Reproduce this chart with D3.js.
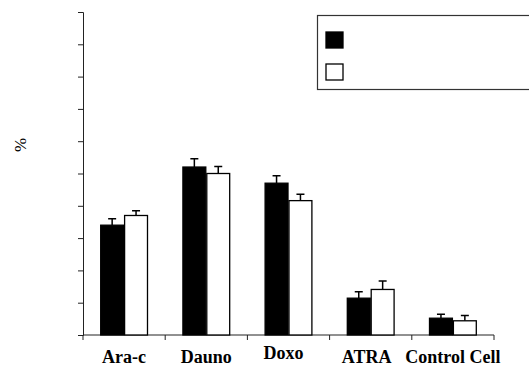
<!DOCTYPE html>
<html>
<head>
<meta charset="utf-8">
<script src="https://cdn.jsdelivr.net/npm/d3@7"></script>
<style>
  body { margin: 0; background: #fff; }
  svg { display: block; }
</style>
</head>
<body>
<div id="chart"></div>
<script>
// values (percent)
const categories = ["Ara-c", "Dauno", "Doxo", "ATRA", "Control Cell"];
const seriesNames = ["s1", "s2"];
const blackValues = [34, 52, 47, 11.4, 5.2];
const blackErrors = [2, 2.6, 2.3, 2, 1.2];
const whiteValues = [37, 50, 41.6, 14.1, 4.4];
const whiteErrors = [1.5, 2.2, 2, 2.6, 1.6];
const yTicks = [0, 10, 20, 30, 40, 50, 60, 70, 80, 90, 100];

const width = 529, height = 366;
const margin = {top: 12, right: 35, bottom: 31, left: 83};

const svg = d3.select("#chart").append("svg")
    .attr("width", width)
    .attr("height", height);

const x = d3.scaleBand()
    .domain(categories)
    .range([margin.left, width - margin.right])
    .paddingInner(0)
    .paddingOuter(0);

const x1 = d3.scaleBand()
    .domain(seriesNames)
    .range([0, x.bandwidth()])
    .paddingOuter(0.72)
    .paddingInner(0);

const y = d3.scaleLinear()
    .domain([0, 100])
    .range([height - margin.bottom, margin.top]);

// y axis, ticks only
const yAxis = svg.append("g")
    .attr("transform", `translate(${margin.left},0)`)
    .call(d3.axisLeft(y).tickValues(yTicks).tickSize(5).tickFormat(""));
yAxis.select(".domain").attr("stroke", "#222");
yAxis.selectAll(".tick line").attr("stroke", "#222");

// x axis with downward ticks at band edges
const xAxisY = y(0);
svg.append("line")
    .attr("x1", margin.left).attr("x2", width - margin.right)
    .attr("y1", xAxisY).attr("y2", xAxisY)
    .attr("stroke", "#222");
const edges = categories.map(c => x(c)).concat([x(categories[categories.length - 1]) + x.bandwidth()]);
svg.selectAll(".xtick")
    .data(edges)
    .enter().append("line")
    .attr("x1", d => d).attr("x2", d => d)
    .attr("y1", xAxisY).attr("y2", xAxisY + 5)
    .attr("stroke", "#222");

// bars
const rows = categories.map((c, i) => ({
    cat: c,
    bars: [
        {key: "s1", v: blackValues[i], e: blackErrors[i], fill: "#000"},
        {key: "s2", v: whiteValues[i], e: whiteErrors[i], fill: "#fff"}
    ]
}));

const groups = svg.selectAll(".grp")
    .data(rows)
    .enter().append("g")
    .attr("transform", d => `translate(${x(d.cat)},0)`);

// error bars (upper only)
groups.selectAll(".err")
    .data(d => d.bars)
    .enter().append("path")
    .attr("d", d => {
        const cx = x1(d.key) + x1.bandwidth() / 2;
        const top = y(d.v + d.e);
        return `M${cx},${y(d.v)}V${top}M${cx - 4},${top}H${cx + 4}`;
    })
    .attr("stroke", "#000")
    .attr("stroke-width", 1.5)
    .attr("fill", "none");

groups.selectAll("rect")
    .data(d => d.bars)
    .enter().append("rect")
    .attr("x", d => x1(d.key) + 0.5)
    .attr("y", d => y(d.v))
    .attr("width", x1.bandwidth() - 1)
    .attr("height", d => y(0) - y(d.v))
    .attr("fill", d => d.fill)
    .attr("stroke", "#000")
    .attr("stroke-width", 1.3);

// category labels
const labelShift = [0, 0, -5, -4, 0];
const labelDy = [0, 0, -4, 0, 0];
svg.selectAll(".cat")
    .data(categories)
    .enter().append("text")
    .attr("x", (d, i) => x(d) + x.bandwidth() / 2 + labelShift[i])
    .attr("y", (d, i) => 363 + labelDy[i])
    .attr("text-anchor", "middle")
    .attr("font-family", "'Liberation Serif', 'Times New Roman', serif")
    .attr("font-weight", "bold")
    .attr("font-size", 18)
    .text(d => d);

// y label
svg.append("text")
    .attr("transform", "translate(26,145) rotate(-90)")
    .attr("text-anchor", "middle")
    .attr("font-family", "'Liberation Serif', 'Times New Roman', serif")
    .attr("font-size", 17)
    .text("%");

// legend box, no text
const legend = svg.append("g");
legend.append("rect")
    .attr("x", 317.5).attr("y", 15.5)
    .attr("width", 215).attr("height", 74)
    .attr("fill", "#fff")
    .attr("stroke", "#333")
    .attr("stroke-width", 1.2);
legend.selectAll(".sw")
    .data([{fill: "#000", y: 32}, {fill: "#fff", y: 64}])
    .enter().append("rect")
    .attr("x", 326).attr("y", d => d.y)
    .attr("width", 17).attr("height", 16)
    .attr("fill", d => d.fill)
    .attr("stroke", "#000")
    .attr("stroke-width", 1.3);
</script>
</body>
</html>
